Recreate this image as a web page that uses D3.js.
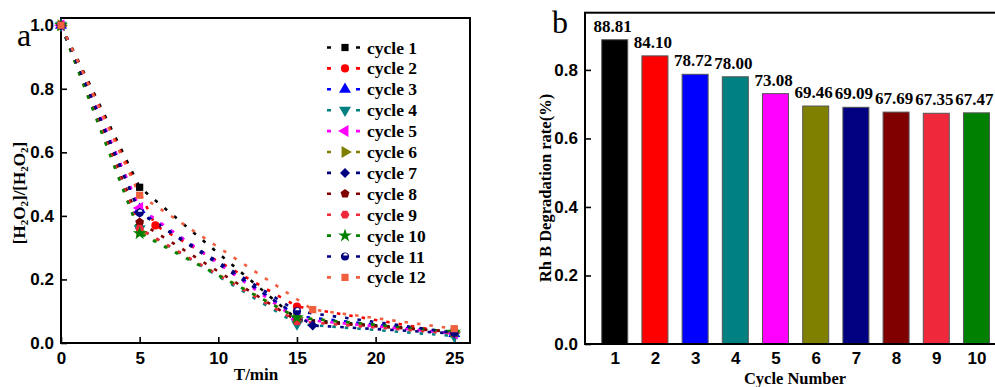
<!DOCTYPE html>
<html>
<head>
<meta charset="utf-8">
<script src="https://cdn.jsdelivr.net/npm/d3@7"></script>
<style>
    body { margin: 0; background: #fff; }
    svg { display: block; font-family: "Liberation Serif", "Times New Roman", serif; }
    .axis text { font-weight: bold; fill: #000; }
    .axis line { stroke: #000; stroke-width: 1.6; }
</style>
</head>
<body>
<div id="chart"></div>
<script>
// ---- data ----
const cycleNames = ["cycle 1", "cycle 2", "cycle 3", "cycle 4", "cycle 5", "cycle 6",
    "cycle 7", "cycle 8", "cycle 9", "cycle 10", "cycle 11", "cycle 12"];

// sampling times per cycle (cycle 2 read at 6 min, cycles 7 and 12 at 16 min)
const cycleTimes = [
    [0, 5, 15, 25], [0, 6, 15, 25], [0, 5, 15, 25], [0, 5, 15, 25],
    [0, 5, 15, 25], [0, 5, 15, 25], [0, 5, 16, 25], [0, 5, 15, 25],
    [0, 5, 15, 25], [0, 5, 15, 25], [0, 5, 15, 25], [0, 5, 16, 25]
];
// [H2O2]/[H2O2]0
const cycleValues = [
    [1.0, 0.49, 0.075, 0.035],
    [1.0, 0.37, 0.115, 0.03],
    [1.0, 0.42, 0.085, 0.03],
    [1.0, 0.36, 0.06, 0.022],
    [1.0, 0.425, 0.075, 0.03],
    [1.0, 0.35, 0.08, 0.035],
    [1.0, 0.41, 0.055, 0.03],
    [1.0, 0.38, 0.07, 0.035],
    [1.0, 0.36, 0.068, 0.03],
    [1.0, 0.345, 0.08, 0.035],
    [1.0, 0.41, 0.1, 0.032],
    [1.0, 0.465, 0.105, 0.045]
];
const cycleColors = ["#000000", "#ff0000", "#0000ff", "#008080", "#ff00ff", "#808000",
    "#000080", "#800000", "#f0283c", "#008000", "#000080", "#f0603f"];
const cycleShapes = ["square", "circle", "triUp", "triDown", "triLeft", "triRight",
    "diamond", "pentagon", "hexagon", "star", "halfCircle", "square"];

const timeTicks = [0, 5, 10, 15, 20, 25];
const ratioTicks = [0.0, 0.2, 0.4, 0.6, 0.8, 1.0];

const barCycles = [1, 2, 3, 4, 5, 6, 7, 8, 9, 10];
const barRates = [88.81, 84.10, 78.72, 78.00, 73.08, 69.46, 69.09, 67.69, 67.35, 67.47];
const barColors = ["#000000", "#ff0000", "#0000ff", "#008080", "#ff00ff", "#808000",
    "#000080", "#800000", "#f0283c", "#008000"];
const rateTicks = [0.0, 0.2, 0.4, 0.6, 0.8];

// ---- helpers ----
function polygon(n, rot) {
    return {
        draw(ctx, size) {
            const r = Math.sqrt(size / (n / 2 * Math.sin(2 * Math.PI / n)));
            for (let i = 0; i < n; i++) {
                const a = rot + i * 2 * Math.PI / n;
                const x = r * Math.sin(a), y = -r * Math.cos(a);
                if (i === 0) ctx.moveTo(x, y); else ctx.lineTo(x, y);
            }
            ctx.closePath();
        }
    };
}

function drawMarker(g, shape, color) {
    const sz = 52;
    if (shape === "square") {
        g.append("path").attr("d", d3.symbol(d3.symbolSquare, sz)()).attr("fill", color);
    } else if (shape === "circle") {
        g.append("path").attr("d", d3.symbol(d3.symbolCircle, sz)()).attr("fill", color);
    } else if (shape.startsWith("tri")) {
        const rot = {triUp: 0, triDown: 180, triLeft: -90, triRight: 90}[shape];
        g.append("path").attr("d", d3.symbol(d3.symbolTriangle, 62)())
            .attr("transform", `rotate(${rot})`).attr("fill", color);
    } else if (shape === "diamond") {
        g.append("path").attr("d", d3.symbol(d3.symbolSquare, 50)())
            .attr("transform", "rotate(45)").attr("fill", color);
    } else if (shape === "pentagon") {
        g.append("path").attr("d", d3.symbol(polygon(5, 0), sz)()).attr("fill", color);
    } else if (shape === "hexagon") {
        g.append("path").attr("d", d3.symbol(polygon(6, Math.PI / 6), sz)()).attr("fill", color);
    } else if (shape === "star") {
        g.append("path").attr("d", d3.symbol(d3.symbolStar, 58)()).attr("fill", color);
    } else if (shape === "halfCircle") {
        g.append("path").attr("d", d3.symbol(d3.symbolCircle, sz)()).attr("fill", color);
        g.append("path")
            .attr("d", d3.arc()({innerRadius: 0, outerRadius: 2.2, startAngle: -Math.PI / 2, endAngle: Math.PI / 2}))
            .attr("transform", "translate(0.5,-1)")
            .attr("fill", "#fff");
    }
}

const svg = d3.select("#chart").append("svg")
    .attr("width", 995)
    .attr("height", 387);
svg.append("rect").attr("width", 995).attr("height", 387).attr("fill", "#fff");

// ================= panel a =================
const a = {left: 61, right: 470, top: 18, bottom: 343};

const x = d3.scaleLinear().domain([0, 26]).range([a.left, a.right]);
const y = d3.scaleLinear().domain([0, 1.0227]).range([a.bottom, a.top]);

svg.append("g")
    .attr("class", "axis")
    .attr("transform", `translate(0,${a.bottom})`)
    .call(d3.axisBottom(x).tickValues(timeTicks).tickFormat(d3.format("d"))
        .tickSizeInner(-6).tickSizeOuter(0).tickPadding(9))
    .call(g => g.select(".domain").remove())
    .selectAll("text").style("font-size", "17px");

svg.append("g")
    .attr("class", "axis")
    .attr("transform", `translate(${a.left},0)`)
    .call(d3.axisLeft(y).tickValues(ratioTicks).tickFormat(d3.format(".1f"))
        .tickSizeInner(-6).tickSizeOuter(0).tickPadding(7))
    .call(g => g.select(".domain").remove())
    .selectAll("text").style("font-size", "17px");

svg.append("rect")
    .attr("x", a.left).attr("y", a.top)
    .attr("width", a.right - a.left).attr("height", a.bottom - a.top)
    .attr("fill", "none").attr("stroke", "#000").attr("stroke-width", 2);

const cycles = cycleNames.map((name, i) => ({
    name: name,
    color: cycleColors[i],
    shape: cycleShapes[i],
    points: cycleTimes[i].map((t, j) => ({t: t, v: cycleValues[i][j]}))
}));

const line = d3.line().x(d => x(d.t)).y(d => y(d.v));

const lines = svg.append("g");
cycles.forEach(c => {
    lines.append("path")
        .attr("d", line(c.points))
        .attr("fill", "none")
        .attr("stroke", c.color)
        .attr("stroke-width", 2.6)
        .attr("stroke-dasharray", "3.5,9");
});

const marks = svg.append("g");
cycles.forEach(c => {
    c.points.forEach(p => {
        const g = marks.append("g").attr("transform", `translate(${x(p.t)},${y(p.v)})`);
        drawMarker(g, c.shape, c.color);
    });
});

// legend
const legend = svg.append("g");
cycles.forEach((c, i) => {
    const ly = 47.5 + i * 20.9;
    legend.append("line")
        .attr("x1", 327).attr("x2", 360).attr("y1", ly).attr("y2", ly)
        .attr("stroke", c.color).attr("stroke-width", 2.6)
        .attr("stroke-dasharray", "4,25");
    drawMarker(legend.append("g").attr("transform", `translate(345,${ly})`), c.shape, c.color);
    legend.append("text")
        .attr("x", 367).attr("y", ly + 6)
        .style("font-size", "17.5px").style("font-weight", "bold")
        .text(c.name);
});

svg.append("text")
    .attr("x", 256).attr("y", 380)
    .attr("text-anchor", "middle")
    .style("font-size", "17px").style("font-weight", "bold")
    .text("T/min");

const yl = svg.append("text")
    .attr("transform", "translate(25,193) rotate(-90)")
    .attr("text-anchor", "middle")
    .style("font-size", "17px").style("font-weight", "bold");
yl.append("tspan").text("[H");
yl.append("tspan").attr("dy", 3).style("font-size", "11px").text("2");
yl.append("tspan").attr("dy", -3).text("O");
yl.append("tspan").attr("dy", 3).style("font-size", "11px").text("2");
yl.append("tspan").attr("dy", -3).text("]/[H");
yl.append("tspan").attr("dy", 3).style("font-size", "11px").text("2");
yl.append("tspan").attr("dy", -3).text("O");
yl.append("tspan").attr("dy", 3).style("font-size", "11px").text("2");
yl.append("tspan").attr("dy", -3).text("]");

svg.append("text")
    .attr("x", 17).attr("y", 46)
    .style("font-size", "32px")
    .text("a");

// ================= panel b =================
const b = {left: 585, right: 1005, top: 12.7, bottom: 344};

const bx = d3.scaleLinear().domain([0.26, 10.71]).range([b.left, b.right]);
const by = d3.scaleLinear().domain([0, 0.967]).range([b.bottom, b.top]);
const barW = 26;

svg.append("g")
    .attr("class", "axis")
    .attr("transform", `translate(0,${b.bottom})`)
    .call(d3.axisBottom(bx).tickValues(barCycles).tickFormat(d3.format("d"))
        .tickSize(0).tickPadding(8))
    .call(g => g.select(".domain").remove())
    .selectAll("text").style("font-size", "17px");

svg.append("g")
    .attr("class", "axis")
    .attr("transform", `translate(${b.left},0)`)
    .call(d3.axisLeft(by).tickValues(rateTicks).tickFormat(d3.format(".1f"))
        .tickSizeInner(-6).tickSizeOuter(0).tickPadding(7))
    .call(g => g.select(".domain").remove())
    .selectAll("text").style("font-size", "17px");

const bars = barCycles.map((c, i) => ({cycle: c, rate: barRates[i], color: barColors[i]}));

svg.append("g").selectAll("rect")
    .data(bars)
    .join("rect")
    .attr("x", d => bx(d.cycle) - barW / 2)
    .attr("y", d => by(d.rate / 100))
    .attr("width", barW)
    .attr("height", d => by(0) - by(d.rate / 100))
    .attr("fill", d => d.color)
    .attr("stroke", "#555")
    .attr("stroke-width", 1);

svg.append("g").selectAll("text")
    .data(bars)
    .join("text")
    .attr("x", d => bx(d.cycle) - 2)
    .attr("y", d => by(d.rate / 100) - 8)
    .attr("text-anchor", "middle")
    .style("font-size", "17px").style("font-weight", "bold")
    .text(d => d.rate.toFixed(2));

svg.append("rect")
    .attr("x", b.left).attr("y", b.top)
    .attr("width", b.right - b.left).attr("height", b.bottom - b.top)
    .attr("fill", "none").attr("stroke", "#000").attr("stroke-width", 2);

svg.append("text")
    .attr("x", 795).attr("y", 384)
    .attr("text-anchor", "middle")
    .style("font-size", "16.5px").style("font-weight", "bold")
    .text("Cycle Number");

svg.append("text")
    .attr("transform", "translate(551,188) rotate(-90)")
    .attr("text-anchor", "middle")
    .style("font-size", "16.5px").style("font-weight", "bold")
    .text("Rh B Degradation rate(%)");

svg.append("text")
    .attr("x", 552).attr("y", 33)
    .style("font-size", "32px")
    .text("b");
</script>
</body>
</html>
